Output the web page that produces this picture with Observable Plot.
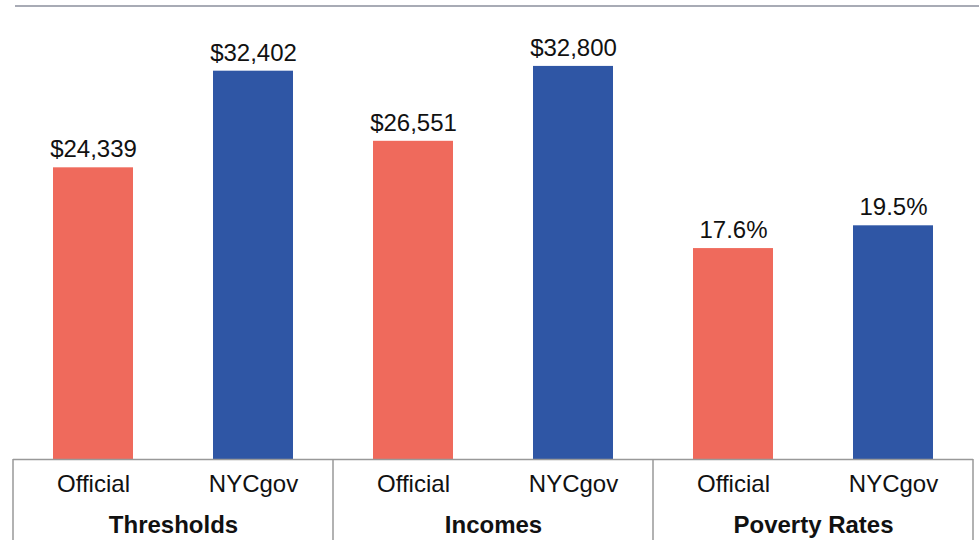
<!DOCTYPE html>
<html>
<head>
<meta charset="utf-8">
<script src="https://cdn.jsdelivr.net/npm/d3@7"></script>
<script src="https://cdn.jsdelivr.net/npm/@observablehq/plot@0.6"></script>
<style>
  body { margin: 0; background: #fff; }
  #wrap { position: relative; width: 979px; height: 540px; overflow: hidden; font-family: "Liberation Sans", Arial, Helvetica, sans-serif; }
  #topline { position: absolute; left: 15px; top: 5px; width: 964px; height: 2px; background: #A8ABB5; }
</style>
</head>
<body>
<div id="wrap"><div id="topline"></div></div>
<script>
const groups = ["Thresholds", "Incomes", "Poverty Rates"];
const series = ["Official", "NYCgov"];
const officialValues = [24339, 26551, 17.6];
const nycgovValues = [32402, 32800, 19.5];
const units = ["$", "$", "%"];
const colors = ["#EF6A5C", "#2F56A5"];
// percentages are drawn on the same bar scale as the dollar figures (1% ≙ 1,000)
const percentFactor = 1000;

const rows = [];
groups.forEach((g, i) => {
  [officialValues[i], nycgovValues[i]].forEach((v, j) => {
    rows.push({
      group: g,
      series: series[j],
      value: v,
      plotted: units[i] === "%" ? v * percentFactor : v,
      label: units[i] === "%" ? v.toFixed(1) + "%" : "$" + d3.format(",")(v)
    });
  });
});

const chart = Plot.plot({
  width: 979,
  height: 540,
  marginTop: 0,
  marginBottom: 81,
  marginLeft: 13,
  marginRight: 6,
  style: { fontFamily: "Liberation Sans, Arial, Helvetica, sans-serif", fontSize: "24px", color: "#111", background: "transparent" },
  fx: { domain: groups, padding: 0, label: null },
  x: { domain: series, paddingInner: 0.5, paddingOuter: 0.25, label: null },
  y: { domain: [0, 38300], axis: null },
  color: { domain: series, range: colors },
  marks: [
    Plot.barY(rows, { fx: "group", x: "series", y: "plotted", fill: "series" }),
    Plot.text(rows, { fx: "group", x: "series", y: "plotted", text: "label", lineAnchor: "bottom", dy: -10.5, fontSize: 24, fill: "#111" }),
    Plot.ruleY([0], { stroke: "#999", strokeWidth: 1.5 }),
    Plot.axisX({ anchor: "bottom", tickSize: 0, tickPadding: 15, label: null, fontSize: 24 }),
    Plot.axisFx({ anchor: "bottom", tickSize: 0, tickPadding: 56, label: null, fontSize: 24, fontWeight: "bold" })
  ]
});

// vertical table separators at the facet edges, placed with the fx scale
const fx = chart.scale("fx");
const edges = [];
groups.forEach(g => { edges.push(fx.apply(g)); });
edges.push(fx.apply(groups[groups.length - 1]) + fx.bandwidth);
const y0 = chart.scale("y").apply(0);
const svg = d3.select(chart.tagName === "svg" ? chart : chart.querySelector("svg"));
svg.append("g")
  .selectAll("line")
  .data(edges)
  .join("line")
  .attr("x1", d => d).attr("x2", d => d)
  .attr("y1", y0).attr("y2", 540)
  .attr("stroke", "#999")
  .attr("stroke-width", 1.5);

document.getElementById("wrap").prepend(chart);
</script>
</body>
</html>
